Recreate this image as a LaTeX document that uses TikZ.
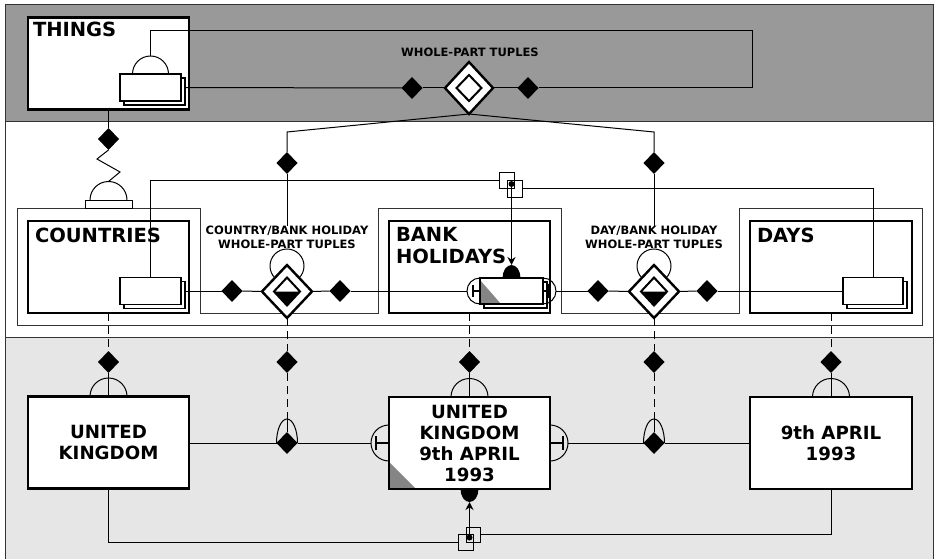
\documentclass[tikz,border=0pt]{standalone}
\usepackage{fontspec}
\setmainfont{DejaVu Sans}
\usetikzlibrary{arrows.meta,shapes.geometric,calc}
\definecolor{topband}{HTML}{999999}
\definecolor{lowband}{HTML}{E6E6E6}
\definecolor{framegray}{HTML}{333333}
\definecolor{cornergray}{HTML}{858585}

\begin{document}
\begin{tikzpicture}[x=1pt,y=-1pt,
  every node/.style={outer sep=0pt},
  conn/.style={line width=1pt, black},
  link/.style={conn, dash pattern=on 8pt off 5pt},
  keyarrow/.style={line width=1.8pt, -{Stealth[length=8pt,width=8pt]}},
  frameline/.style={line width=1pt, framegray},
  typebox/.style={draw, line width=2.6pt, minimum width=161pt, minimum height=92pt, inner sep=0pt},
  card/.style={draw, line width=1.6pt, fill=white, minimum width=61pt, minimum height=27pt, inner sep=0pt},
  cardback/.style={card, line width=1.3pt},
  blackdia/.style={diamond, fill=black, minimum width=21pt, minimum height=22pt, inner sep=0pt},
  tupleouter/.style={diamond, draw, fill=white, line width=2.4pt, minimum width=50pt, minimum height=53pt, inner sep=0pt},
  tupleinner/.style={diamond, draw, fill=white, line width=2pt, minimum width=26pt, minimum height=28pt, inner sep=0pt},
  halfblack/.style={path picture={\fill[black] (path picture bounding box.west) -- (path picture bounding box.east) -- (path picture bounding box.south) -- cycle;}},
  bigname/.style={font=\bfseries\fontsize{19.5}{22}\selectfont, inner sep=0pt, align=left},
  instname/.style={font=\bfseries\fontsize{18.2}{21.3}\selectfont, inner sep=0pt, align=center},
  smallname/.style={font=\bfseries\fontsize{11.5}{14}\selectfont, inner sep=0pt, align=center},
  joinsq/.style={draw, line width=1pt, minimum width=15pt, minimum height=16pt, inner sep=0pt},
  joindot/.style={circle, fill=black, minimum size=6pt, inner sep=0pt},
  tbar/.style={line width=2pt},
]
\useasboundingbox (0,0) rectangle (934,559);

% bands and frame
\fill[topband] (5,5) rectangle (933,122);
\fill[lowband] (5,337) rectangle (933,559);
\draw[frameline] (5,559) -- (5,5) -- (933,5) -- (933,559);
\draw[frameline] (5,122) -- (933,122);
\draw[frameline] (5,337) -- (933,337);

% ---------- boxes ----------
\node[typebox, fill=white] (things) at (108.5,63.5) {};
\node[typebox] (countries) at (108.5,267) {};
\node[typebox] (bankhol) at (469.5,267) {};
\node[typebox, minimum width=162pt] (days) at (831,267) {};
\node[typebox, fill=white] (uk) at (108.5,442.5) {};
\node[typebox, fill=white, path picture={\fill[cornergray] ([yshift=27pt]path picture bounding box.south west) -- (path picture bounding box.south west) -- ([xshift=27pt]path picture bounding box.south west) -- cycle;}] (ukday) at (469.5,443) {};
\node[typebox, fill=white, minimum width=162pt] (apr) at (831,443) {};

% outline of the middle group
\draw[frameline] (17,208) -- (200,208) -- (200,313) -- (378,313) -- (378,208)
  -- (561,208) -- (561,313) -- (739,313) -- (739,208) -- (922,208) -- (922,325) -- (17,325) -- cycle;

% ---------- names ----------
\node[bigname, anchor=base west] (thingsname) at (33,37) {THINGS};
\node[bigname, anchor=base west] (countriesname) at (35,242) {COUNTRIES};
\node[bigname, anchor=base west] (bankname) at (396,263.5) {BANK\\HOLIDAYS};
\node[bigname, anchor=base west] (daysname) at (757,242) {DAYS};
\node[instname] (ukname) at (108.5,442.7) {UNITED\\KINGDOM};
\node[instname] (ukdayname) at (469.5,443.5) {UNITED\\KINGDOM\\9th APRIL\\1993};
\node[instname] (aprname) at (831,443.5) {9th APRIL\\1993};
\node[smallname] (wptname) at (470,52.5) {WHOLE-PART TUPLES};
\node[smallname] (cbtname) at (287,237.3) {COUNTRY/BANK HOLIDAY\\WHOLE-PART TUPLES};
\node[smallname] (dbtname) at (654,237.3) {DAY/BANK HOLIDAY\\WHOLE-PART TUPLES};

% ---------- stacked cards ----------
\node[cardback] (thingsback) at (154.5,91.5) {};
\node[card] (thingscard) at (150.5,87.5) {};
\node[cardback] (countriesback) at (154.5,295) {};
\node[card] (countriescard) at (150.5,291) {};
\node[cardback, minimum width=63pt, minimum height=26pt] (bankback) at (515.5,295) {};
\node[card, minimum width=63pt, minimum height=26pt,
  path picture={\fill[cornergray] ([yshift=24pt]path picture bounding box.south west) -- (path picture bounding box.south west) -- ([xshift=21pt]path picture bounding box.south west) -- cycle;}] (bankcard) at (511.5,291) {};
\node[cardback, minimum width=60pt] (daysback) at (877,295) {};
\node[card, minimum width=60pt] (dayscard) at (873,291) {};

% ---------- tuple diamonds ----------
\draw[conn] (287,266) circle[radius=17];
\draw[conn] (654,266) circle[radius=17];
\node[tupleouter, minimum width=48pt, minimum height=52pt] (wpt) at (469,88) {};
\node[tupleinner, minimum width=25pt, minimum height=26pt] (wptin) at (wpt) {};
\node[tupleouter] (cbt) at (287,291.5) {};
\node[tupleinner, halfblack] (cbtin) at (cbt) {};
\node[tupleouter] (dbt) at (654,291.5) {};
\node[tupleinner, halfblack] (dbtin) at (dbt) {};

% ---------- small black diamonds ----------
\node[blackdia] (wl) at (412,88) {};
\node[blackdia] (wr) at (528,88) {};
\node[blackdia] (ud1) at (287,163) {};
\node[blackdia] (ud2) at (654,163) {};
\node[blackdia] (subd) at (108.5,139) {};
\node[blackdia] (md1) at (232,291) {};
\node[blackdia] (md2) at (340,291) {};
\node[blackdia] (md3) at (598,291) {};
\node[blackdia] (md4) at (707,291) {};
\node[blackdia] (ld1) at (108.5,362) {};
\node[blackdia] (ld2) at (287,362) {};
\node[blackdia] (ld3) at (469.5,362) {};
\node[blackdia] (ld4) at (654,362) {};
\node[blackdia] (ld5) at (831,362) {};
\node[blackdia] (hd1) at (287,443) {};
\node[blackdia] (hd2) at (654,443) {};

% ---------- joins ----------
\node[joinsq] (tsq1) at (506.5,180.5) {};
\node[joinsq, minimum height=17pt] (tsq2) at (514.5,188.5) {};
\node[joindot] (tdot) at (511.5,184) {};
\node[joinsq] (bsq1) at (465.5,542) {};
\node[joinsq, minimum width=14pt, minimum height=15pt] (bsq2) at (473,534.5) {};
\node[joindot] (bdot) at (469.5,537.5) {};

% plinth under the supertype dome
\node[draw, line width=1pt, fill=white, minimum width=47pt, minimum height=8pt, inner sep=0pt] (plinth) at (108.5,204) {};

% ---------- named points ----------
\coordinate (thingsdome) at ($(thingscard.north)+(0,-18)$);
\coordinate (wptloop) at (752,31);
\coordinate (cbtknee) at (287,132);
\coordinate (dbtknee) at (654,132);
\coordinate (plinthdome) at ($(plinth.north)+(0,-18.5)$);
\coordinate (bankdome) at ($(bankcard.north)+(0,-13)$);
\coordinate (ukdaydome) at ($(ukday.south)+(0,13)$);
\coordinate (arch1) at (287,419);
\coordinate (arch2) at (654,419);

% ---------- connectors ----------
% whole-part loop of THINGS
\draw[conn] (thingsdome) |- (wptloop) |- (wr.east);
\draw[conn] (wr.west) -- (wpt.east);
\draw[conn] (wpt.west) -- (wl.east);
\draw[conn] (wl.west) -- (thingsback.east |- thingscard.center);
% fan to the two tuple types
\draw[conn] (wpt.south) -- (cbtknee) -- (ud1.north);
\draw[conn] (ud1.south) -- (cbtname.north);
\draw[conn] (wpt.south) -- (dbtknee) -- (ud2.north);
\draw[conn] (ud2.south) -- (dbtname.north);
% THINGS to COUNTRIES
\draw[conn] (things.south) -- (subd.north);
\draw[conn] (subd.south) -- (97,159) -- (120,172) -- (plinthdome);
% tuple rows
\draw[conn] (countriesback.east |- countriescard.east) -- (md1.west);
\draw[conn] (md1.east) -- (cbt.west);
\draw[conn] (cbt.east) -- (md2.west);
\draw[conn] (md2.east) -- ($(bankcard.west)+(-13,0)$);
\draw[conn] ($(bankcard.east)+(13,0)$) -- (md3.west);
\draw[conn] (md3.east) -- (dbt.west);
\draw[conn] (dbt.east) -- (md4.west);
\draw[conn] (md4.east) -- (dayscard.west);
% key joins
\draw[conn] (countriescard.north) |- (tsq1.west);
\draw[conn] (dayscard.north) |- (tsq2.east);
\draw[keyarrow] (tdot.center) -- (bankdome);
\draw[conn] (uk.south) |- (bsq1.west);
\draw[conn] (apr.south) |- (bsq2.east);
\draw[keyarrow] (bdot.center) -- (ukdaydome);
% classification of instances
\draw[link] (countries.south) -- (ld1.north);
\draw[conn] (ld1.south) -- (uk.north);
\draw[link] (cbt.south) -- (ld2.north);
\draw[link] (ld2.south) -- (arch1);
\draw[conn] (arch1) -- (hd1.north);
\draw[link] (bankhol.south) -- (ld3.north);
\draw[conn] (ld3.south) -- (ukday.north);
\draw[link] (dbt.south) -- (ld4.north);
\draw[link] (ld4.south) -- (arch2);
\draw[conn] (arch2) -- (hd2.north);
\draw[link] (days.south) -- (ld5.north);
\draw[conn] (ld5.south) -- (apr.north);
% instance tuple row
\draw[conn] (uk.east |- hd1) -- (hd1.west);
\draw[conn] (hd1.east) -- ($(ukday.west)+(-18,0)$);
\draw[conn] ($(ukday.east)+(18,0)$) -- (hd2.west);
\draw[conn] (hd2.east) -- (apr.west |- hd2);

% ---------- domes, arches and caps ----------
\draw[conn] ($(thingscard.north)+(-18,0)$) arc[start angle=180, end angle=360, radius=18];
\draw[conn] ($(plinth.north)+(-18.5,0)$) arc[start angle=180, end angle=360, radius=18.5];
\draw[conn] ($(uk.north)+(-18.5,0)$) arc[start angle=180, end angle=360, radius=18.5];
\draw[conn] ($(ukday.north)+(-18.5,0)$) arc[start angle=180, end angle=360, radius=18.5];
\draw[conn] ($(apr.north)+(-18.5,0)$) arc[start angle=180, end angle=360, radius=18.5];
\draw[conn] ($(hd1)+(-10.5,0)$) arc[start angle=180, end angle=360, x radius=10.5, y radius=24];
\draw[conn] ($(hd2)+(-10.5,0)$) arc[start angle=180, end angle=360, x radius=10.5, y radius=24];
\fill ($(bankcard.north)+(-9,0)$) arc[start angle=180, end angle=360, x radius=9, y radius=13] -- cycle;
\fill ($(ukday.south)+(9,0)$) arc[start angle=0, end angle=180, x radius=9, y radius=13] -- cycle;

% capsule ends of the bank holiday card
\draw[conn] ($(bankcard.west)+(0,13)$) arc[start angle=90, end angle=270, radius=13];
\draw[conn] ($(bankcard.east)+(0,-13)$) arc[start angle=270, end angle=450, radius=13];
\draw[line width=1.6pt] (473,285) -- (473,297);
\draw[line width=1.6pt] (473,291) -- (bankcard.west);
\draw[line width=1.6pt] (549,284) -- (549,298);
\draw[line width=1.6pt] (bankcard.east) -- (549,291);

% side caps of the instance tuple
\draw[conn] ($(ukday.west)+(0,18)$) arc[start angle=90, end angle=270, radius=18];
\draw[conn] ($(ukday.east)+(0,-18)$) arc[start angle=270, end angle=450, radius=18];
\draw[tbar] (376,436) -- (376,450);
\draw[tbar] (376,443) -- (ukday.west);
\draw[tbar] (563,436) -- (563,450);
\draw[tbar] (ukday.east) -- (563,443);
\end{tikzpicture}
\end{document}
